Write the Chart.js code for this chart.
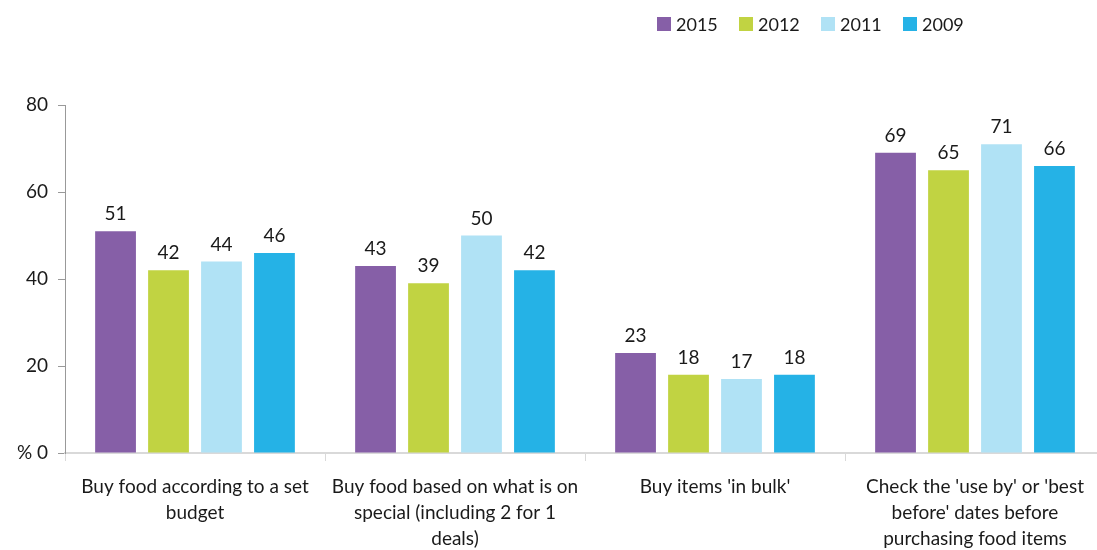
<!DOCTYPE html>
<html>
<head>
<meta charset="utf-8">
<script src="https://cdn.jsdelivr.net/npm/chart.js@4/dist/chart.umd.min.js"></script>
<style>
  html, body { margin: 0; padding: 0; background: #fff; overflow: hidden; }
  canvas { display: block; }
</style>
</head>
<body>
<canvas id="grafico" width="1105" height="550"></canvas>
<script>
const categorias = [
  ['Buy food according to a set', 'budget'],
  ['Buy food based on what is on', 'special (including 2 for 1', 'deals)'],
  ["Buy items 'in bulk'"],
  ["Check the 'use by' or 'best", "before' dates before", 'purchasing food items']
];
const anos = ['2015', '2012', '2011', '2009'];
const cores = ['#865fa7', '#c1d342', '#b0e2f5', '#25b2e6'];
const v2015 = [51, 43, 23, 69];
const v2012 = [42, 39, 18, 65];
const v2011 = [44, 50, 17, 71];
const v2009 = [46, 42, 18, 66];
const ticksY = [0, 20, 40, 60, 80];

const fonte = 'Lato, "Open Sans", sans-serif';
const corTexto = '#1a1a1a';

// valores em cima de cada barra
const rotulos = {
  id: 'rotulos',
  afterDatasetsDraw(chart) {
    const ctx = chart.ctx;
    ctx.save();
    ctx.font = '19px ' + fonte;
    ctx.fillStyle = corTexto;
    ctx.textAlign = 'center';
    ctx.textBaseline = 'middle';
    chart.data.datasets.forEach((ds, i) => {
      chart.getDatasetMeta(i).data.forEach((bar, j) => {
        ctx.fillText(ds.data[j], bar.x, bar.y - 17);
      });
    });
    ctx.restore();
  }
};

// legenda no topo, à direita
const legenda = {
  id: 'legenda',
  afterDraw(chart) {
    const ctx = chart.ctx;
    ctx.save();
    ctx.font = '18px ' + fonte;
    ctx.textBaseline = 'middle';
    let x = 657;
    const y = 24;
    chart.data.datasets.forEach(ds => {
      ctx.fillStyle = ds.backgroundColor;
      ctx.fillRect(x, y - 7, 14, 14);
      ctx.fillStyle = corTexto;
      ctx.fillText(ds.label, x + 19, y + 1);
      x += 82;
    });
    ctx.restore();
  }
};

const series = [v2015, v2012, v2011, v2009];

new Chart(document.getElementById('grafico').getContext('2d'), {
  type: 'bar',
  data: {
    labels: categorias,
    datasets: anos.map((ano, i) => ({
      label: ano,
      data: series[i],
      backgroundColor: cores[i],
      categoryPercentage: 0.815,
      barPercentage: 0.77
    }))
  },
  options: {
    responsive: false,
    animation: false,
    layout: { padding: { top: 105, left: 0, right: 0, bottom: 0 } },
    plugins: {
      legend: { display: false },
      tooltip: { enabled: false }
    },
    scales: {
      x: {
        afterFit(scale) { scale.height = 97; },
        grid: {
          offset: true,
          drawOnChartArea: false,
          color: '#d9d9d9',
          tickLength: 8
        },
        border: { color: '#d9d9d9', width: 2 },
        ticks: {
          color: corTexto,
          font: { family: fonte, size: 19, lineHeight: 1.37 },
          maxRotation: 0,
          autoSkip: false,
          padding: 13
        }
      },
      y: {
        min: 0,
        max: 80,
        afterBuildTicks(scale) {
          scale.ticks = ticksY.map(v => ({ value: v }));
        },
        afterFit(scale) { scale.width = 65; },
        grid: {
          drawOnChartArea: false,
          color: '#999',
          tickLength: 7
        },
        border: { color: '#999', width: 1 },
        ticks: {
          color: corTexto,
          font: { family: fonte, size: 19 },
          padding: 10,
          callback: v => (v === 0 ? '% 0' : v)
        }
      }
    }
  },
  plugins: [rotulos, legenda]
});
</script>
</body>
</html>
